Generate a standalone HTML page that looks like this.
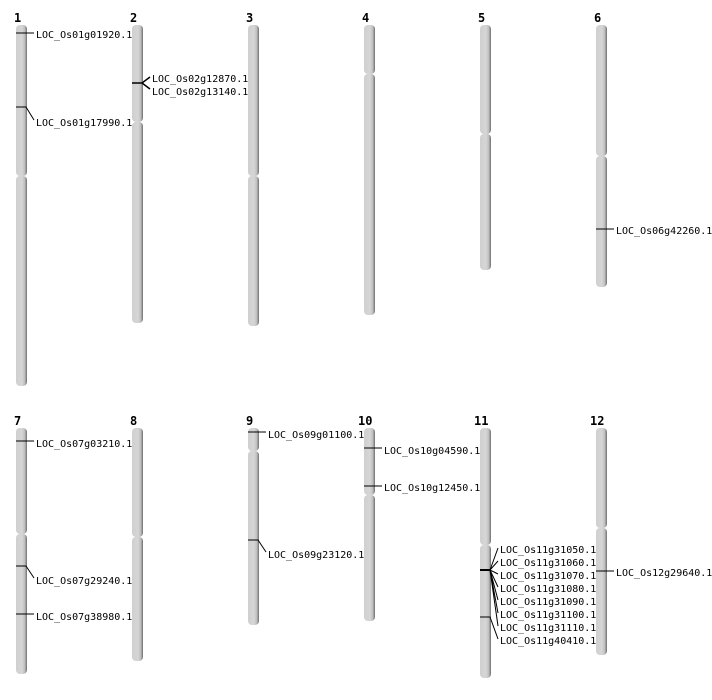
<!DOCTYPE html>
<html><head><meta charset="utf-8"><style>html,body{margin:0;padding:0;background:#fff}svg{display:block}</style></head>
<body>
<svg width="712" height="700" xmlns="http://www.w3.org/2000/svg" font-family="'DejaVu Sans Mono','Liberation Mono',monospace">
<defs>
<linearGradient id="g" x1="0" x2="1" y1="0" y2="0">
<stop offset="0" stop-color="#cfcfcf"/><stop offset="0.55" stop-color="#d6d6d6"/><stop offset="0.8" stop-color="#bdbdbd"/><stop offset="1" stop-color="#6e6e6e"/>
</linearGradient>
</defs>
<g fill="url(#g)">
<!-- row1 -->
<rect x="16" y="25" width="11" height="151" rx="4"/><rect x="16" y="176" width="11" height="210" rx="4"/>
<rect x="132" y="25" width="11" height="97" rx="4"/><rect x="132" y="122" width="11" height="201" rx="4"/>
<rect x="248" y="25" width="11" height="151" rx="4"/><rect x="248" y="176" width="11" height="150" rx="4"/>
<rect x="364" y="25" width="11" height="49" rx="4"/><rect x="364" y="74" width="11" height="241" rx="4"/>
<rect x="480" y="25" width="11" height="109" rx="4"/><rect x="480" y="134" width="11" height="136" rx="4"/>
<rect x="596" y="25" width="11" height="131" rx="4"/><rect x="596" y="156" width="11" height="131" rx="4"/>
<!-- row2 -->
<rect x="16" y="428" width="11" height="106" rx="4"/><rect x="16" y="534" width="11" height="140" rx="4"/>
<rect x="132" y="428" width="11" height="109" rx="4"/><rect x="132" y="537" width="11" height="124" rx="4"/>
<rect x="248" y="428" width="11" height="23" rx="4"/><rect x="248" y="451" width="11" height="174" rx="4"/>
<rect x="364" y="428" width="11" height="67" rx="4"/><rect x="364" y="495" width="11" height="126" rx="4"/>
<rect x="480" y="428" width="11" height="117" rx="4"/><rect x="480" y="545" width="11" height="133" rx="4"/>
<rect x="596" y="428" width="11" height="100" rx="4"/><rect x="596" y="528" width="11" height="127" rx="4"/>
</g>
<g font-weight="bold" font-size="12" fill="#000">
<text x="14" y="22">1</text><text x="130" y="22">2</text><text x="246" y="22">3</text><text x="362" y="22">4</text><text x="478" y="22">5</text><text x="594" y="22">6</text>
<text x="14" y="425">7</text><text x="130" y="425">8</text><text x="246" y="425">9</text><text x="358" y="425">10</text><text x="474" y="425">11</text><text x="590" y="425">12</text>
</g>
<g stroke="#000" stroke-width="1" fill="none">
<path d="M16 33H34"/>
<path d="M16 107H26L34 120"/>
<path d="M132 83H142L150 77M142 83L150 89" stroke-width="1.5"/>
<path d="M596 229H614"/>
<path d="M16 441H34"/>
<path d="M16 566H26L34 578"/>
<path d="M16 614H34"/>
<path d="M248 432H266"/>
<path d="M248 540H258L266 552"/>
<path d="M364 448H382"/>
<path d="M364 486H382"/>
<path d="M596 571H614"/>
<path d="M480 570H490" stroke-width="2"/>
<path d="M490 570L498 548M490 570L498 561M490 570L498 574M490 570L498 587M490 570L498 600M490 570L498 613M490 570L498 626"/>
<path d="M480 617H490L498 639"/>
</g>
<g font-size="10" fill="#000">
<text x="36" y="38">LOC_Os01g01920.1</text>
<text x="36" y="126">LOC_Os01g17990.1</text>
<text x="152" y="82">LOC_Os02g12870.1</text>
<text x="152" y="95">LOC_Os02g13140.1</text>
<text x="616" y="234">LOC_Os06g42260.1</text>
<text x="36" y="447">LOC_Os07g03210.1</text>
<text x="36" y="584">LOC_Os07g29240.1</text>
<text x="36" y="620">LOC_Os07g38980.1</text>
<text x="268" y="438">LOC_Os09g01100.1</text>
<text x="268" y="558">LOC_Os09g23120.1</text>
<text x="384" y="454">LOC_Os10g04590.1</text>
<text x="384" y="491">LOC_Os10g12450.1</text>
<text x="616" y="576">LOC_Os12g29640.1</text>
<text x="500" y="553">LOC_Os11g31050.1</text>
<text x="500" y="566">LOC_Os11g31060.1</text>
<text x="500" y="579">LOC_Os11g31070.1</text>
<text x="500" y="592">LOC_Os11g31080.1</text>
<text x="500" y="605">LOC_Os11g31090.1</text>
<text x="500" y="618">LOC_Os11g31100.1</text>
<text x="500" y="631">LOC_Os11g31110.1</text>
<text x="500" y="644">LOC_Os11g40410.1</text>
</g>
</svg>
</body></html>
